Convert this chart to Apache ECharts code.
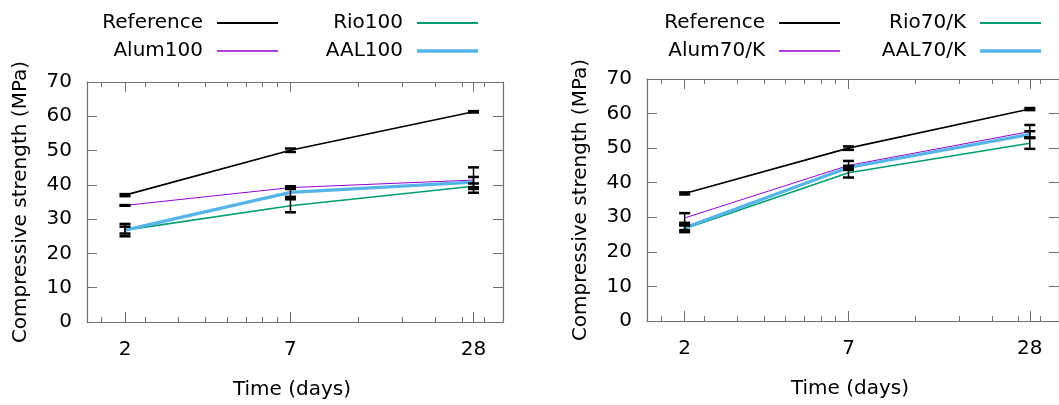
<!DOCTYPE html>
<html lang="en">
<head>
    <meta charset="UTF-8">
    <title>Compressive strength</title>
    <style>
        html,body{margin:0;padding:0;background:#fff;}
        #chart{width:1059px;height:405px;}
    </style>
</head>
<body>
    <div id="chart"></div>
    <script src="https://cdn.jsdelivr.net/npm/echarts/dist/echarts.min.js"></script>
    <script>
        // curing age (days), log x axis
        const days=[2,7,28];
        const majorTicks=[2,7,28];
        const minorTicks=[1.67,2.33,3,3.67,4.33,5,5.67,6.33,11.67,16.33,21,25.67,30.33];

        // left panel
        const namesA=['Reference','Alum100','Rio100','AAL100'];
        const refA=[37.0,50.1,61.3],     refAErr=[0.3,0.5,0.2];
        const alumA=[34.0,39.2,41.4],    alumAErr=[0.1,0.4,3.7];
        const rioA=[26.8,33.9,39.6],     rioAErr=[1.8,1.9,0.8];
        const aalA=[26.8,37.8,40.8],     aalAErr=[1.0,1.3,1.5];

        // right panel
        const namesB=['Reference','Alum70/K','Rio70/K','AAL70/K'];
        const refB=[36.9,50.0,61.3],     refBErr=[0.3,0.5,0.3];
        const alumB=[29.8,45.0,54.8],    alumBErr=[1.4,1.3,1.9];
        const rioB=[26.7,42.9,51.4],     rioBErr=[1.0,1.4,1.6];
        const aalB=[27.0,44.4,54.0],     aalBErr=[0.7,0.5,0.9];

        const colors=['#000000','#9400d3','#009e73','#56b4e9'];
        const widths=[1.6,1,1.6,3.2];
        const font='DejaVu Sans';
        const axisCol='#707070';
        const grids=[
            {left:87,top:82,width:416,height:240},
            {left:647,top:79,width:417,height:242},
        ];

        let chart=echarts.init(document.getElementById('chart'));

        // one log x axis per tick row; the "top" rows are bottom axes shifted up
        // by the plot height with ticks pointing down, like gnuplot's mirror tics
        function tickAxis(gridIndex,values,len,withLine,offset){
            return {
                gridIndex,type:'log',logBase:10,min:1.5,max:35,position:'bottom',offset,
                axisLine:{show:withLine,onZero:false,lineStyle:{color:axisCol,width:1.2}},
                splitLine:{show:false},
                axisLabel:{show:false,customValues:values},
                axisTick:{show:true,inside:offset===0,length:len,customValues:values,lineStyle:{color:axisCol,width:1}},
            };
        }
        function xAxes(gridIndex){
            let h=grids[gridIndex].height;
            let bottom=tickAxis(gridIndex,majorTicks,10,true,0);
            bottom.axisLabel={show:true,customValues:majorTicks,margin:18,color:'#000',fontFamily:font,fontSize:20};
            bottom.name='Time (days)';
            bottom.nameLocation='middle';
            bottom.nameGap=58;
            bottom.nameTextStyle={color:'#000',fontFamily:font,fontSize:20,padding:[0,6,0,0]};
            return [
                bottom,
                tickAxis(gridIndex,minorTicks,5,false,0),
                tickAxis(gridIndex,majorTicks,10,true,-h),
                tickAxis(gridIndex,minorTicks,5,false,-h),
            ];
        }
        function yAxes(gridIndex){
            return [
                {
                    gridIndex,type:'value',min:0,max:70,interval:10,position:'left',
                    axisLine:{show:true,onZero:false,lineStyle:{color:axisCol,width:1.2}},
                    axisTick:{inside:true,length:10,lineStyle:{color:axisCol}},
                    splitLine:{show:false},
                    axisLabel:{margin:15,color:'#000',fontFamily:font,fontSize:20},
                    name:'Compressive strength (MPa)',nameLocation:'middle',nameGap:56,
                    nameTextStyle:{color:'#000',fontFamily:font,fontSize:20},
                },
                {
                    gridIndex,type:'value',min:0,max:70,interval:10,position:'right',
                    axisLine:{show:true,onZero:false,lineStyle:{color:axisCol,width:1.2}},
                    axisTick:{inside:true,length:10,lineStyle:{color:axisCol}},
                    splitLine:{show:false},axisLabel:{show:false},
                },
            ];
        }

        function renderErr(params,api){
            let x=api.value(0),y=api.value(1),e=api.value(2);
            let t=api.coord([x,y+e]),b=api.coord([x,y-e]);
            let hw=5.5;
            return {
                type:'group',
                children:[
                    {type:'line',shape:{x1:t[0],y1:t[1],x2:b[0],y2:b[1]},style:{stroke:'#000',lineWidth:1.5}},
                    {type:'line',shape:{x1:t[0]-hw,y1:t[1],x2:t[0]+hw,y2:t[1]},style:{stroke:'#000',lineWidth:2.5}},
                    {type:'line',shape:{x1:b[0]-hw,y1:b[1],x2:b[0]+hw,y2:b[1]},style:{stroke:'#000',lineWidth:2.5}},
                ],
            };
        }

        function panelSeries(names,vals,errs,xIdx,yIdx){
            let out=[];
            names.forEach((name,i)=>{
                out.push({
                    name,type:'line',xAxisIndex:xIdx,yAxisIndex:yIdx,
                    data:days.map((d,k)=>[d,vals[i][k]]),
                    symbol:'none',silent:true,
                    lineStyle:{color:colors[i],width:widths[i]},
                    itemStyle:{color:colors[i]},
                    z:2+(i===0?1:0),
                });
            });
            names.forEach((name,i)=>{
                out.push({
                    type:'custom',xAxisIndex:xIdx,yAxisIndex:yIdx,
                    data:days.map((d,k)=>[d,vals[i][k],errs[i][k]]),
                    encode:{x:0,y:1},renderItem:renderErr,silent:true,z:5,
                });
            });
            return out;
        }

        function legendItem(name,color,h,right,top){
            return {
                right,top,padding:0,itemWidth:61,itemHeight:h,align:'right',selectedMode:false,
                data:[{name,icon:'rect',itemStyle:{color}}],
                textStyle:{color:'#000',fontFamily:font,fontSize:20,lineHeight:20,padding:[0,9,0,0]},
            };
        }

        let legends=[];
        [[namesA,[781,581]],[namesB,[219,18]]].forEach(([names,cols])=>{
            legends.push(legendItem(names[0],colors[0],2,cols[0],13));
            legends.push(legendItem(names[1],colors[1],1.5,cols[0],41));
            legends.push(legendItem(names[2],colors[2],2,cols[1],13));
            legends.push(legendItem(names[3],colors[3],3.5,cols[1],41));
        });

        let option={
            animation:false,
            grid:grids,
            xAxis:[...xAxes(0),...xAxes(1)],
            yAxis:[...yAxes(0),...yAxes(1)],
            legend:legends,
            series:[
                ...panelSeries(namesA,[refA,alumA,rioA,aalA],[refAErr,alumAErr,rioAErr,aalAErr],0,0),
                ...panelSeries(namesB,[refB,alumB,rioB,aalB],[refBErr,alumBErr,rioBErr,aalBErr],4,2),
            ],
        };
        chart.setOption(option);
    </script>
</body>
</html>
